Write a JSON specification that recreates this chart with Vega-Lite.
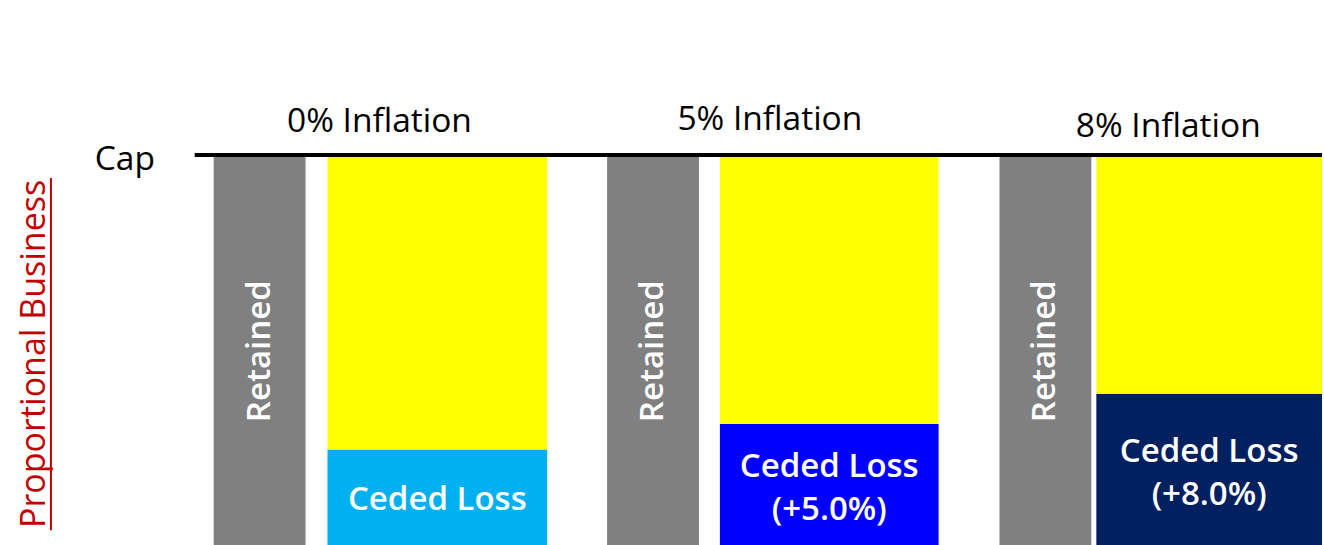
{
  "$schema": "https://vega.github.io/schema/vega-lite/v6.json",
  "width": 1324,
  "height": 545,
  "padding": 0,
  "autosize": {"type": "fit", "contains": "padding"},
  "background": "white",
  "config": {"view": {"stroke": null}},
  "datasets": {
    "rects": [
      {"part": "Retained 0%", "x0": 21.4, "x1": 30.6, "y0": 0, "y1": 100, "color": "#808080"},
      {"part": "Headroom 0%", "x0": 32.8, "x1": 54.8, "y0": 24.4, "y1": 100, "color": "#ffff00"},
      {"part": "Ceded 0%", "x0": 32.8, "x1": 54.8, "y0": 0, "y1": 24.4, "color": "#00b0f0"},
      {"part": "Retained 5%", "x0": 60.8, "x1": 70.0, "y0": 0, "y1": 100, "color": "#808080"},
      {"part": "Headroom 5%", "x0": 72.1, "x1": 94.0, "y0": 31.0, "y1": 100, "color": "#ffff00"},
      {"part": "Ceded 5%", "x0": 72.1, "x1": 94.0, "y0": 0, "y1": 31.0, "color": "#0000ff"},
      {"part": "Retained 8%", "x0": 100.1, "x1": 109.3, "y0": 0, "y1": 100, "color": "#808080"},
      {"part": "Headroom 8%", "x0": 109.8, "x1": 132.4, "y0": 38.7, "y1": 100, "color": "#ffff00"},
      {"part": "Ceded 8%", "x0": 109.8, "x1": 132.4, "y0": 0, "y1": 38.7, "color": "#002060"}
    ],
    "rules": [
      {"what": "cap", "x0": 19.5, "x1": 132.4, "y0": 100, "y1": 100, "w": 4, "color": "#000000"},
      {"what": "underline", "x0": 5.1, "x1": 5.1, "y0": 3.8, "y1": 94.1, "w": 2, "color": "#c00000"}
    ],
    "titles": [
      {"label": "0% Inflation", "x": 38.0, "y": 108.5},
      {"label": "5% Inflation", "x": 77.1, "y": 109.0},
      {"label": "8% Inflation", "x": 117.0, "y": 107.2},
      {"label": "Cap", "x": 12.5, "y": 98.7}
    ],
    "retained": [
      {"label": "Retained", "x": 26.0, "y": 49.7},
      {"label": "Retained", "x": 65.4, "y": 49.7},
      {"label": "Retained", "x": 104.7, "y": 49.7}
    ],
    "ceded": [
      {"label": "Ceded Loss", "x": 43.8, "y": 11.5},
      {"label": "Ceded Loss\n(+5.0%)", "x": 83.05, "y": 20.0},
      {"label": "Ceded Loss\n(+8.0%)", "x": 121.1, "y": 23.85}
    ],
    "side": [
      {"label": "Proportional Business", "x": 3.5, "y": 49.0}
    ]
  },
  "layer": [
    {
      "data": {"name": "rects"},
      "mark": {"type": "rect"},
      "encoding": {
        "x": {"field": "x0", "type": "quantitative", "scale": {"domain": [0, 132.4], "nice": false, "zero": false}, "axis": null},
        "x2": {"field": "x1"},
        "y": {"field": "y0", "type": "quantitative", "scale": {"domain": [0, 139.74], "nice": false, "zero": false}, "axis": null},
        "y2": {"field": "y1"},
        "color": {"field": "color", "type": "nominal", "scale": null, "legend": null}
      }
    },
    {
      "data": {"name": "rules"},
      "mark": {"type": "rule"},
      "encoding": {
        "x": {"field": "x0", "type": "quantitative"},
        "x2": {"field": "x1"},
        "y": {"field": "y0", "type": "quantitative"},
        "y2": {"field": "y1"},
        "color": {"field": "color", "type": "nominal", "scale": null, "legend": null},
        "strokeWidth": {"field": "w", "type": "quantitative", "scale": null, "legend": null}
      }
    },
    {
      "data": {"name": "titles"},
      "mark": {"type": "text", "font": "Open Sans", "fontSize": 33.5, "fontWeight": 500, "color": "#000000", "baseline": "middle", "align": "center"},
      "encoding": {
        "x": {"field": "x", "type": "quantitative"},
        "y": {"field": "y", "type": "quantitative"},
        "text": {"field": "label"}
      }
    },
    {
      "data": {"name": "retained"},
      "mark": {"type": "text", "font": "Open Sans", "fontSize": 33, "fontWeight": 600, "color": "#ffffff", "baseline": "middle", "align": "center", "angle": 270},
      "encoding": {
        "x": {"field": "x", "type": "quantitative"},
        "y": {"field": "y", "type": "quantitative"},
        "text": {"field": "label"}
      }
    },
    {
      "data": {"name": "ceded"},
      "mark": {"type": "text", "font": "Open Sans", "fontSize": 33, "fontWeight": 600, "color": "#ffffff", "baseline": "middle", "align": "center", "lineBreak": "\n", "lineHeight": 43},
      "encoding": {
        "x": {"field": "x", "type": "quantitative"},
        "y": {"field": "y", "type": "quantitative"},
        "text": {"field": "label"}
      }
    },
    {
      "data": {"name": "side"},
      "mark": {"type": "text", "font": "Open Sans", "fontSize": 34, "fontWeight": 500, "color": "#c00000", "baseline": "middle", "align": "center", "angle": 270},
      "encoding": {
        "x": {"field": "x", "type": "quantitative"},
        "y": {"field": "y", "type": "quantitative"},
        "text": {"field": "label"}
      }
    }
  ]
}
